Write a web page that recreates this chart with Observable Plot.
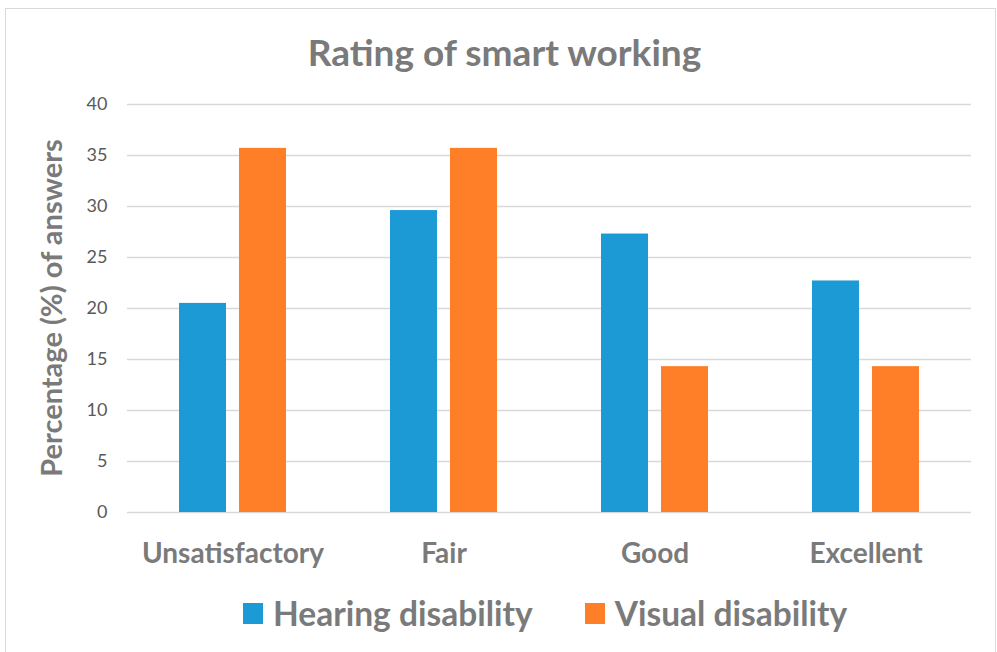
<!DOCTYPE html>
<html>
<head>
<meta charset="utf-8">
<script src="https://cdn.jsdelivr.net/npm/d3@7"></script>
<script src="https://cdn.jsdelivr.net/npm/@observablehq/plot@0.6"></script>
<style>
  html, body { margin: 0; padding: 0; background: #fff; }
  body { width: 997px; height: 652px; position: relative; overflow: hidden; font-family: Lato, "Open Sans", sans-serif; }
  #frame { position: absolute; left: 5px; top: 8px; width: 991px; height: 660px; border: 1.5px solid #d9d9d9; box-sizing: border-box; }
  #title { position: absolute; left: 0; width: 1009px; top: 29px; text-align: center; font-size: 37px; font-weight: bold; color: #7a7a7a; }
  #ylabel { position: absolute; left: 50px; top: 308px; transform: translate(-50%, -50%) rotate(-90deg); white-space: nowrap; font-size: 29px; font-weight: bold; color: #7a7a7a; }
  #chart { position: absolute; left: 0; top: 0; }
  #legend { position: absolute; top: 593px; left: 243px; display: flex; align-items: center; font-size: 33.5px; font-weight: bold; color: #7a7a7a; }
  .sw { display: inline-block; width: 20px; height: 21px; margin-right: 10px; }
  .item { display: flex; align-items: center; margin-right: 52px; }
  [aria-label^="fx-axis"] text { font-size: 28px; font-weight: bold; fill: #7a7a7a; }
  [aria-label^="y-axis"] text { font-size: 18px; fill: #595959; }
</style>
</head>
<body>
<div id="frame"></div>
<div id="title">Rating of smart working</div>
<div id="ylabel">Percentage (%) of answers</div>
<div id="chart"></div>
<div id="legend"></div>
<script>
const categories = ["Unsatisfactory", "Fair", "Good", "Excellent"];
const seriesNames = ["Hearing disability", "Visual disability"];
const hearing = [20.5, 29.6, 27.3, 22.7];
const visual = [35.7, 35.7, 14.3, 14.3];
const seriesColors = ["#1b9ad6", "#fe7f27"];
const yTicks = [0, 5, 10, 15, 20, 25, 30, 35, 40];

const rows = [];
categories.forEach((c, i) => {
  rows.push({category: c, series: seriesNames[0], value: hearing[i]});
  rows.push({category: c, series: seriesNames[1], value: visual[i]});
});

const chart = Plot.plot({
  width: 997,
  height: 580,
  marginTop: 104,
  marginBottom: 68,
  marginLeft: 125,
  marginRight: 25,
  style: {fontFamily: "Lato, 'Open Sans', sans-serif", background: "transparent"},
  facet: {data: rows, x: "category"},
  fx: {domain: categories, paddingInner: 0, paddingOuter: 0, label: null, axis: "bottom", tickSize: 0, tickPadding: 31},
  x: {domain: seriesNames, paddingInner: 0.215, paddingOuter: 0.857, axis: null},
  y: {domain: [0, 40], ticks: yTicks, tickSize: 0, tickPadding: 20, label: null},
  color: {domain: seriesNames, range: seriesColors},
  marks: [
    Plot.ruleY(yTicks, {stroke: "#d9d9d9", strokeWidth: 1.4}),
    Plot.barY(rows, {x: "series", y: "value", fill: "series"})
  ]
});
document.getElementById("chart").appendChild(chart);

const legend = document.getElementById("legend");
seriesNames.forEach((s, i) => {
  const item = document.createElement("div");
  item.className = "item";
  const sw = document.createElement("span");
  sw.className = "sw";
  sw.style.background = seriesColors[i];
  item.appendChild(sw);
  item.appendChild(document.createTextNode(s));
  legend.appendChild(item);
});
</script>
</body>
</html>
